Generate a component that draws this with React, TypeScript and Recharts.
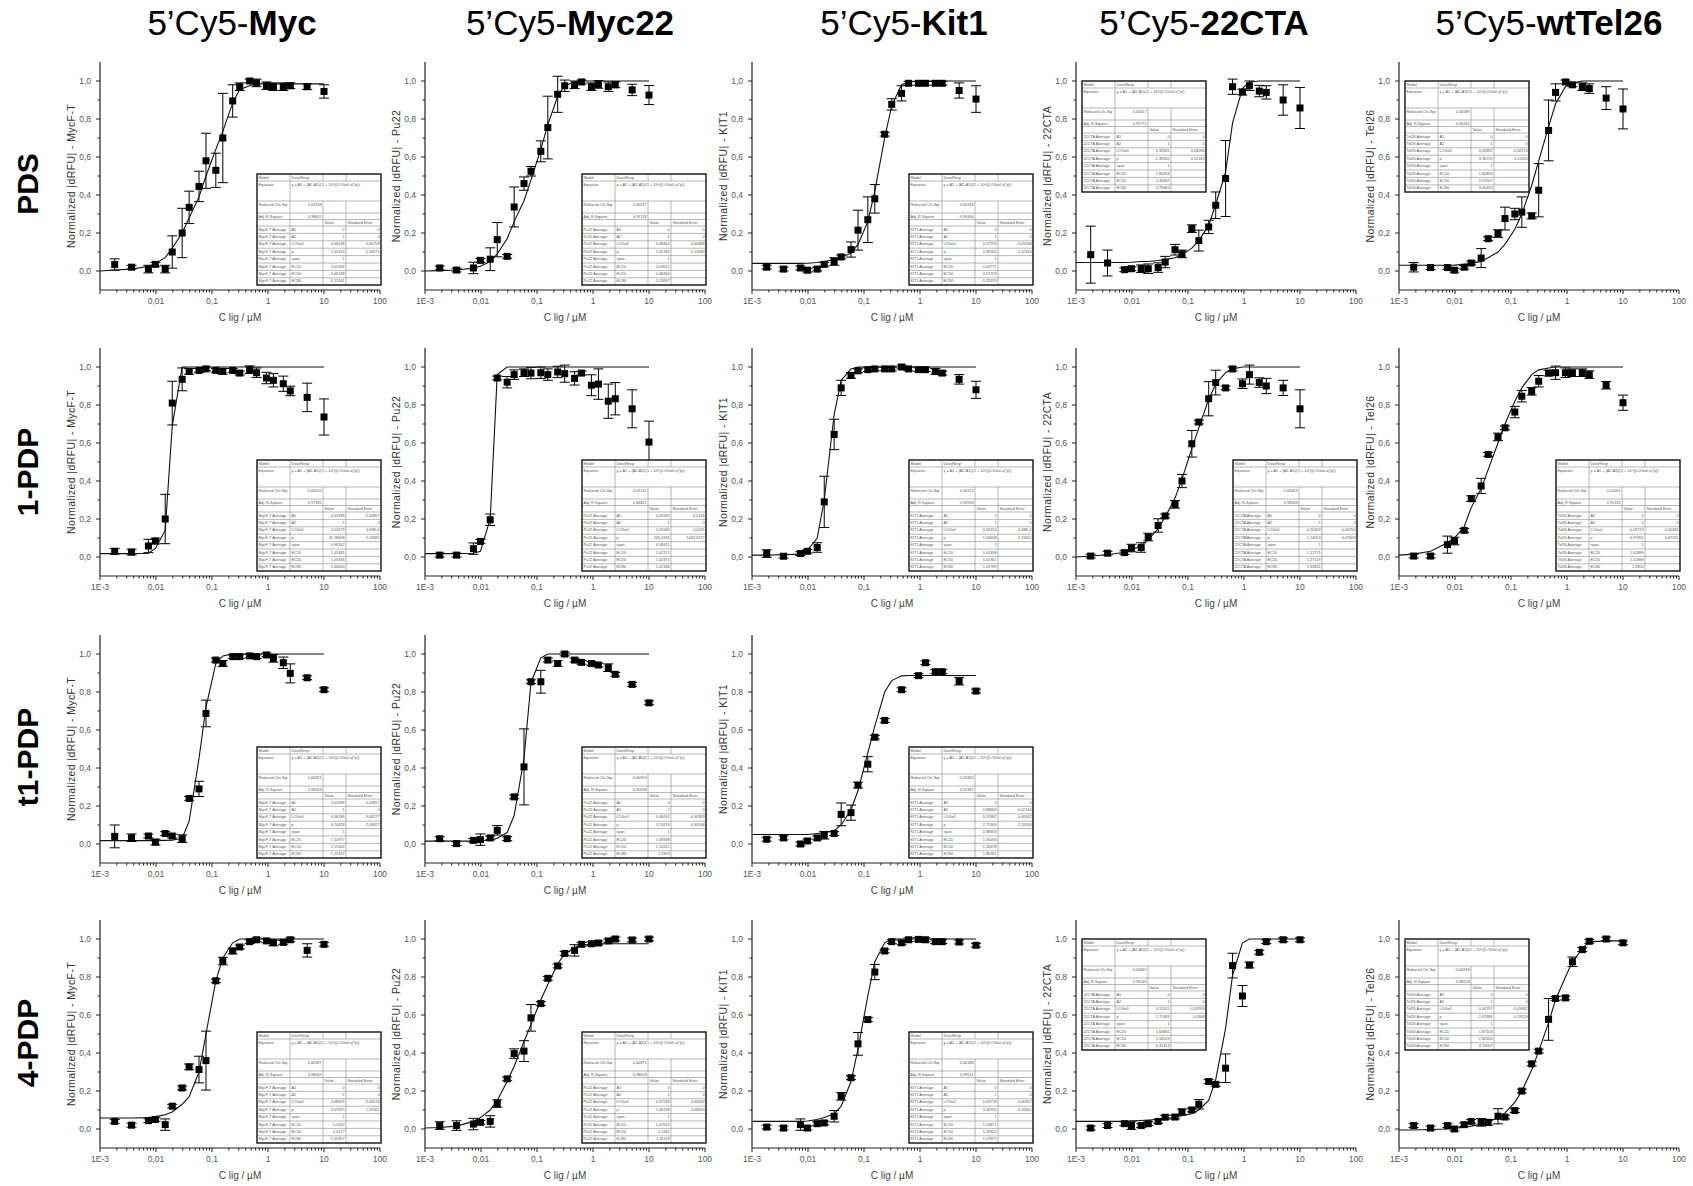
import React from "react";
import { ScatterChart, Scatter, XAxis, YAxis, ErrorBar } from "recharts";

// ligand concentrations (µM), same dilution series for every panel
const CONC = [0.00183, 0.00366, 0.00732, 0.00977, 0.0146, 0.0195, 0.0293, 0.0391, 0.0586, 0.0781, 0.117, 0.156, 0.234, 0.3125, 0.469, 0.625, 0.9375, 1.25, 1.875, 2.5, 5, 10];
// x positions of the fitted DoseResp curve (axis start + concentrations)
const FIT_X = [0.001, ...CONC];

const COLUMNS = ["Myc", "Myc22", "Kit1", "22CTA", "wtTel26"];
const Y_NAMES = ["MycF-T", "Pu22", "KIT1", "22CTA", "Tel26"];
const TABLE_NAMES = ["MycF-T Average", "Pu22 Average", "KIT1 Average", "22CTA Average", "Tel26 Average"];
const ROWS = ["PDS", "1-PDP", "t1-PDP", "4-PDP"];

const X_TICK_LABELS: Record<string, string> = { "0.001": "1E-3", "0.01": "0,01", "0.1": "0,1", "1": "1", "10": "10", "100": "100" };
const Y_TICKS = [0, 0.1, 0.2, 0.3, 0.4, 0.5, 0.6, 0.7, 0.8, 0.9, 1.0];

// ---- PDS ----
const PDS_MYC_Y = [0.034, 0.02, 0.01, 0.035, 0.01, 0.1, 0.2, 0.335, 0.445, 0.58, 0.53, 0.7, 0.895, 0.97, 1.0, 0.99, 0.975, 0.97, 0.97, 0.975, 0.97, 0.945];
const PDS_MYC_ERR = [0.03, 0.01, 0.02, 0.01, 0.02, 0.085, 0.13, 0.085, 0.08, 0.145, 0.09, 0.235, 0.085, 0.02, 0.01, 0.02, 0.02, 0.02, 0.02, 0.015, 0.015, 0.035];
const PDS_MYC_FIT = [0.0, 0.005, 0.01, 0.025, 0.04, 0.07, 0.12, 0.2, 0.28, 0.39, 0.5, 0.64, 0.735, 0.885, 0.955, 0.975, 0.985, 0.985, 0.985, 0.985, 0.985, 0.985, 0.985];
const PDS_MYC_TAB = ["0,00138", "0,98611", "0", "0", "1", "0", "0,06138", "0,00758", "1,53104", "0,16871", "1", "0,02456", "0,06138", "0,15341"];

const PDS_MYC22_Y = [0.016, 0.005, 0.016, 0.056, 0.062, 0.165, 0.077, 0.337, 0.46, 0.525, 0.63, 0.755, 0.93, 0.975, 0.98, 0.995, 0.97, 0.982, 0.97, 0.98, 0.953, 0.926];
const PDS_MYC22_ERR = [0.01, 0.01, 0.03, 0.01, 0.06, 0.09, 0.01, 0.105, 0.035, 0.025, 0.055, 0.165, 0.095, 0.03, 0.02, 0.01, 0.02, 0.02, 0.025, 0.015, 0.03, 0.05];
const PDS_MYC22_FIT = [0.0, 0.002, 0.005, 0.015, 0.025, 0.05, 0.09, 0.17, 0.26, 0.37, 0.48, 0.64, 0.77, 0.92, 0.975, 0.995, 1, 1, 1, 1, 1, 1, 1];
const PDS_MYC22_TAB = ["0,00247", "0,97118", "0", "0", "1", "0", "0,08464", "0,00888", "1,32183", "0,13080", "1", "0,03015", "0,08464", "0,23697"];

const PDS_KIT1_Y = [0.02, 0.01, 0.016, 0.004, 0.01, 0.035, 0.05, 0.074, 0.113, 0.215, 0.27, 0.38, 0.72, 0.877, 0.935, 0.988, 0.988, 0.988, 0.988, 0.988, 0.95, 0.905];
const PDS_KIT1_ERR = [0.01, 0.01, 0.01, 0.01, 0.01, 0.01, 0.02, 0.01, 0.04, 0.105, 0.12, 0.075, 0.01, 0.03, 0.04, 0.01, 0.01, 0.01, 0.01, 0.01, 0.04, 0.07];
const PDS_KIT1_FIT = [0.04, 0.04, 0.04, 0.04, 0.041, 0.045, 0.05, 0.06, 0.07, 0.095, 0.14, 0.26, 0.42, 0.7, 0.87, 0.98, 0.995, 1, 1, 1, 1, 1, 1];
const PDS_KIT1_TAB = ["0,00148", "0,99306", "0", "0", "1", "0", "0,17793", "0,01038", "2,36563", "0,12364", "1", "0,09771", "0,17793", "0,29329"];

const PDS_22CTA_Y = [0.086, 0.042, 0.007, 0.012, 0.012, 0.012, 0.018, 0.047, 0.112, 0.09, 0.223, 0.16, 0.232, 0.346, 0.487, 0.97, 0.942, 0.975, 0.947, 0.94, 0.9, 0.858];
const PDS_22CTA_ERR = [0.15, 0.068, 0.01, 0.01, 0.02, 0.025, 0.025, 0.03, 0.028, 0.02, 0.02, 0.055, 0.035, 0.07, 0.2, 0.04, 0.015, 0.025, 0.03, 0.035, 0.08, 0.108];
const PDS_22CTA_FIT = [0.045, 0.045, 0.045, 0.045, 0.046, 0.05, 0.05, 0.055, 0.06, 0.07, 0.085, 0.12, 0.16, 0.24, 0.35, 0.52, 0.78, 0.96, 0.995, 1, 1, 1, 1];
const PDS_22CTA_TAB = ["0,00417", "0,97271", "0", "0", "1", "0", "0,32681", "0,03096", "2,39635", "0,51163", "1", "1,80958", "2,30062", "3,79464"];

const PDS_TEL26_Y = [0.02, 0.018, 0.018, 0.004, 0.02, 0.042, 0.068, 0.17, 0.197, 0.276, 0.3, 0.31, 0.29, 0.425, 0.74, 0.94, 0.995, 0.98, 0.97, 0.96, 0.91, 0.853];
const PDS_TEL26_ERR = [0.025, 0.01, 0.01, 0.01, 0.01, 0.01, 0.05, 0.01, 0.02, 0.06, 0.03, 0.08, 0.015, 0.14, 0.16, 0.045, 0.01, 0.01, 0.02, 0.025, 0.06, 0.105];
const PDS_TEL26_FIT = [0.03, 0.03, 0.03, 0.03, 0.031, 0.035, 0.04, 0.05, 0.07, 0.1, 0.14, 0.22, 0.3, 0.45, 0.58, 0.76, 0.88, 0.97, 0.99, 1, 1, 1, 1];
const PDS_TEL26_TAB = ["0,00589", "0,96242", "0", "0", "1", "0", "0,31892", "0,02170", "3,36715", "0,21160", "1", "1,60894", "2,07407", "3,05453"];

// ---- 1-PDP ----
const P1_MYC_Y = [0.03, 0.026, 0.058, 0.084, 0.2, 0.81, 0.935, 0.977, 0.982, 0.99, 0.982, 0.977, 0.982, 0.968, 0.986, 0.97, 0.942, 0.93, 0.912, 0.874, 0.84, 0.737];
const P1_MYC_ERR = [0.015, 0.015, 0.035, 0.015, 0.13, 0.115, 0.06, 0.015, 0.01, 0.01, 0.01, 0.015, 0.01, 0.01, 0.02, 0.025, 0.03, 0.035, 0.04, 0.025, 0.075, 0.095];
const P1_MYC_FIT = [0.018, 0.018, 0.018, 0.02, 0.045, 0.14, 0.69, 1, 1, 1, 1, 1, 1, 1, 1, 1, 1, 1, 1, 1, 1, 1, 1];
const P1_MYC_TAB = ["0,00550", "0,97181", "0,01838", "0,00857", "1", "0", "0,01679", "4,69E-4", "31,78608", "5,13685", "0,98162", "1,02481", "1,03184", "1,04054"];

const P1_MYC22_Y = [0.01, 0.01, 0.044, 0.082, 0.196, 0.942, 0.92, 0.96, 0.97, 0.968, 0.97, 0.96, 0.974, 0.965, 0.94, 0.968, 0.904, 0.91, 0.82, 0.833, 0.78, 0.605];
const P1_MYC22_ERR = [0.01, 0.01, 0.03, 0.01, 0.03, 0.01, 0.03, 0.025, 0.02, 0.03, 0.03, 0.03, 0.03, 0.045, 0.035, 0.01, 0.055, 0.08, 0.09, 0.085, 0.1, 0.11];
const P1_MYC22_FIT = [0.018, 0.018, 0.018, 0.02, 0.03, 0.2, 0.96, 1, 1, 1, 1, 1, 1, 1, 1, 1, 1, 1, 1, 1, 1, 1, 1];
const P1_MYC22_TAB = ["0,01511", "0,84821", "0,01589", "0,0126", "1", "0", "0,01580", "0,0011", "245,3166", "1043,3272", "0,98411", "1,02272", "1,02374", "1,02186"];

const P1_KIT1_Y = [0.018, 0.004, 0.018, 0.03, 0.05, 0.29, 0.645, 0.89, 0.956, 0.98, 0.986, 0.99, 0.99, 0.99, 1.0, 0.99, 0.986, 0.986, 0.977, 0.968, 0.935, 0.88];
const P1_KIT1_ERR = [0.02, 0.01, 0.01, 0.01, 0.025, 0.135, 0.08, 0.04, 0.015, 0.01, 0.01, 0.01, 0.01, 0.01, 0.01, 0.01, 0.01, 0.01, 0.015, 0.01, 0.025, 0.045];
const P1_KIT1_FIT = [0.01, 0.01, 0.012, 0.015, 0.035, 0.1, 0.3, 0.75, 0.93, 0.99, 1, 1, 1, 1, 1, 1, 1, 1, 1, 1, 1, 1, 1];
const P1_KIT1_TAB = ["0,00113", "0,99593", "0", "0", "1", "0", "0,02310", "6,38E-4", "5,24608", "0,73451", "1", "1,01498", "1,02361", "1,03789"];

const P1_22CTA_Y = [0.005, 0.02, 0.023, 0.047, 0.05, 0.105, 0.166, 0.216, 0.277, 0.4, 0.596, 0.71, 0.833, 0.918, 0.89, 0.99, 0.912, 0.96, 0.918, 0.9, 0.89, 0.78];
const P1_22CTA_ERR = [0.01, 0.01, 0.01, 0.02, 0.025, 0.02, 0.035, 0.01, 0.02, 0.035, 0.07, 0.01, 0.09, 0.065, 0.01, 0.01, 0.025, 0.05, 0.025, 0.04, 0.04, 0.1];
const P1_22CTA_FIT = [0.0, 0.005, 0.012, 0.025, 0.035, 0.06, 0.09, 0.15, 0.21, 0.31, 0.41, 0.57, 0.68, 0.83, 0.91, 0.97, 0.99, 1, 1, 1, 1, 1, 1];
const P1_22CTA_TAB = ["0,00463", "0,98543", "0", "0", "1", "0", "0,10463", "0,00750", "1,13053", "0,07609", "1", "1,12771", "1,27519", "1,63811"];

const P1_TEL26_Y = [0.005, 0.005, 0.065, 0.084, 0.14, 0.307, 0.374, 0.54, 0.632, 0.68, 0.763, 0.846, 0.872, 0.925, 0.968, 0.97, 0.97, 0.97, 0.97, 0.96, 0.904, 0.812];
const P1_TEL26_ERR = [0.01, 0.01, 0.045, 0.02, 0.01, 0.015, 0.04, 0.01, 0.02, 0.01, 0.03, 0.03, 0.02, 0.03, 0.015, 0.035, 0.025, 0.02, 0.02, 0.02, 0.02, 0.04];
const P1_TEL26_FIT = [0.01, 0.015, 0.03, 0.075, 0.1, 0.16, 0.26, 0.36, 0.46, 0.6, 0.7, 0.82, 0.89, 0.96, 0.985, 0.995, 1, 1, 1, 1, 1, 1, 1];
const P1_TEL26_TAB = ["0,01001", "0,95132", "0", "0", "1", "0", "0,03719", "0,00431", "0,97361", "0,07261", "1", "1,01889", "1,11898", "1,3850"];

// ---- t1-PDP ----
const T1_MYC_Y = [0.04, 0.033, 0.042, 0.01, 0.055, 0.042, 0.028, 0.24, 0.29, 0.687, 0.968, 0.95, 0.986, 0.986, 0.99, 0.986, 0.995, 0.977, 0.954, 0.898, 0.875, 0.812];
const T1_MYC_ERR = [0.06, 0.02, 0.01, 0.015, 0.01, 0.01, 0.02, 0.01, 0.04, 0.07, 0.01, 0.015, 0.01, 0.01, 0.01, 0.01, 0.01, 0.02, 0.03, 0.05, 0.01, 0.01];
const T1_MYC_FIT = [0.018, 0.018, 0.018, 0.018, 0.018, 0.019, 0.02, 0.03, 0.12, 0.45, 0.72, 0.95, 0.99, 1, 1, 1, 1, 1, 1, 1, 1, 1, 1];
const T1_MYC_TAB = ["0,00321", "0,98163", "0,01838", "0,00857", "1", "0", "0,06266", "0,00277", "4,74428", "2,03627", "1", "1,10977", "1,15566", "1,22332"];

const T1_MYC22_Y = [0.028, 0.002, 0.019, 0.023, 0.032, 0.072, 0.028, 0.248, 0.406, 0.854, 0.854, 0.968, 0.95, 1.0, 0.968, 0.956, 0.95, 0.942, 0.928, 0.893, 0.84, 0.743];
const T1_MYC22_ERR = [0.01, 0.01, 0.01, 0.03, 0.01, 0.025, 0.01, 0.01, 0.2, 0.01, 0.06, 0.01, 0.015, 0.01, 0.01, 0.01, 0.01, 0.01, 0.02, 0.01, 0.01, 0.01];
const T1_MYC22_FIT = [0.015, 0.015, 0.015, 0.015, 0.016, 0.02, 0.03, 0.06, 0.15, 0.45, 0.85, 0.98, 1, 1, 1, 1, 1, 1, 1, 1, 1, 1, 1];
const T1_MYC22_TAB = ["0,00693", "0,95698", "0", "0", "1", "0", "0,06091", "0,00369", "3,74119", "0,90506", "1", "1,09838", "1,15051", "1,1903"];

const T1_KIT1_Y = [0.025, 0.032, 0.0, 0.016, 0.032, 0.046, 0.055, 0.156, 0.165, 0.31, 0.42, 0.562, 0.65, null, 0.812, null, 0.886, 0.954, 0.907, 0.907, 0.857, 0.805];
const T1_KIT1_ERR = [0.01, 0.01, 0.01, 0.01, 0.01, 0.02, 0.01, 0.06, 0.04, 0.015, 0.04, 0.01, 0.01, 0, 0.01, 0, 0.01, 0.01, 0.01, 0.01, 0.02, 0.01];
const T1_KIT1_FIT = [0.05, 0.05, 0.05, 0.05, 0.05, 0.055, 0.06, 0.07, 0.1, 0.18, 0.28, 0.48, 0.62, 0.8, 0.86, 0.885, 0.887, 0.887, 0.887, 0.887, 0.887, 0.887, 0.887];
const T1_KIT1_TAB = ["0,00382", "0,97487", "0", "0", "0,88663", "0,02140", "0,13962", "0,00932", "2,75169", "1,11030", "0,88663", "1,16034", "1,36478", "1,86361"];

// ---- 4-PDP ----
const P4_MYC_Y = [0.04, 0.02, 0.044, 0.05, 0.023, 0.12, 0.216, 0.327, 0.313, 0.36, 0.78, 0.884, 0.937, 0.958, 0.986, 0.996, 0.99, 0.98, 0.982, 0.996, 0.94, 0.972];
const P4_MYC_ERR = [0.01, 0.01, 0.01, 0.01, 0.03, 0.01, 0.01, 0.015, 0.07, 0.155, 0.01, 0.02, 0.015, 0.01, 0.01, 0.01, 0.01, 0.015, 0.01, 0.01, 0.035, 0.01];
const P4_MYC_FIT = [0.058, 0.058, 0.058, 0.06, 0.065, 0.075, 0.09, 0.13, 0.17, 0.3, 0.5, 0.78, 0.9, 0.98, 1, 1, 1, 1, 1, 1, 1, 1, 1];
const P4_MYC_TAB = ["0,00387", "0,98649", "0", "0", "1", "0", "0,08309", "0,00576", "3,07875", "1,37601", "1", "1,1562", "1,0177", "1,20497"];

const P4_MYC22_Y = [0.018, 0.018, 0.026, 0.035, 0.04, 0.134, 0.264, 0.397, 0.41, 0.585, 0.66, 0.793, 0.858, 0.924, 0.94, 0.972, 0.975, 0.979, 0.99, 1.0, 0.995, 1.0];
const P4_MYC22_ERR = [0.02, 0.025, 0.03, 0.01, 0.03, 0.02, 0.01, 0.025, 0.055, 0.07, 0.01, 0.01, 0.01, 0.01, 0.03, 0.01, 0.01, 0.01, 0.01, 0.01, 0.01, 0.01];
const P4_MYC22_FIT = [0.005, 0.008, 0.015, 0.04, 0.06, 0.1, 0.15, 0.25, 0.33, 0.46, 0.55, 0.68, 0.76, 0.87, 0.92, 0.955, 0.968, 0.974, 0.975, 0.975, 0.975, 0.975, 0.975];
const P4_MYC22_TAB = ["0,00875", "0,98618", "0", "0", "1", "0", "0,07518", "0,00584", "1,06138", "0,08300", "1", "1,07610", "1,1842", "1,31118"];

const P4_KIT1_Y = [0.01, 0.005, 0.023, 0.005, 0.028, 0.032, 0.067, 0.172, 0.27, 0.448, 0.576, 0.826, 0.937, 0.986, 0.98, 0.996, 0.998, 0.996, 0.986, 0.986, 0.984, 0.967];
const P4_KIT1_ERR = [0.01, 0.01, 0.03, 0.01, 0.01, 0.01, 0.03, 0.02, 0.01, 0.06, 0.01, 0.04, 0.01, 0.01, 0.01, 0.01, 0.01, 0.01, 0.01, 0.01, 0.01, 0.01];
const P4_KIT1_FIT = [0.04, 0.04, 0.04, 0.04, 0.042, 0.05, 0.06, 0.08, 0.12, 0.25, 0.42, 0.7, 0.88, 0.98, 1, 1, 1, 1, 1, 1, 1, 1, 1];
const P4_KIT1_TAB = ["0,00186", "0,99511", "0", "0", "1", "0", "0,09718", "0,00357", "3,44765", "0,33301", "1", "1,13871", "1,28325", "1,57875"];

const P4_22CTA_Y = [0.005, 0.018, 0.028, 0.018, 0.018, 0.028, 0.04, 0.062, 0.063, 0.09, 0.1, 0.13, 0.25, 0.235, 0.32, 0.86, 0.7, 0.863, 0.93, 0.986, 0.996, 0.996];
const P4_22CTA_ERR = [0.01, 0.01, 0.01, 0.02, 0.01, 0.01, 0.01, 0.01, 0.01, 0.015, 0.01, 0.025, 0.01, 0.01, 0.075, 0.065, 0.055, 0.015, 0.01, 0.01, 0.01, 0.01];
const P4_22CTA_FIT = [0.04, 0.04, 0.04, 0.04, 0.043, 0.045, 0.047, 0.05, 0.055, 0.062, 0.07, 0.08, 0.1, 0.15, 0.26, 0.53, 0.81, 0.98, 1, 1, 1, 1, 1];
const P4_22CTA_TAB = ["0,00642", "0,96549", "0", "0", "1", "0", "0,52011", "0,02993", "2,77483", "0,3308", "1", "1,60831", "2,16029", "6,31314"];

const P4_TEL26_Y = [0.018, 0.005, 0.018, 0.0, 0.023, 0.04, 0.035, 0.035, 0.067, 0.063, 0.097, 0.2, 0.343, 0.41, 0.577, 0.687, 0.69, 0.88, 0.944, 0.988, 1.0, 0.98];
const P4_TEL26_ERR = [0.01, 0.01, 0.01, 0.01, 0.01, 0.01, 0.02, 0.015, 0.04, 0.01, 0.01, 0.01, 0.01, 0.01, 0.11, 0.01, 0.01, 0.025, 0.01, 0.01, 0.01, 0.01];
const P4_TEL26_FIT = [-0.005, -0.005, -0.003, 0.0, 0.003, 0.01, 0.015, 0.025, 0.035, 0.06, 0.085, 0.14, 0.2, 0.31, 0.41, 0.56, 0.68, 0.8, 0.88, 0.95, 0.985, 0.99, 0.99];
const P4_TEL26_TAB = ["0,00933", "0,98558", "0", "0", "1", "0", "0,44797", "0,03082", "2,07886", "0,53129", "1", "1,87103", "2,80328", "4,70057"];

// layout of the grid (page pixels)
const AXIS_X = [100, 425, 752, 1076, 1399];
const ZERO_Y = [271, 557, 844, 1129];
const TITLE_X = [232, 570, 904, 1204, 1549];
const ROW_LABEL_Y = [184, 472, 757, 1043];

type Panel = {
  row: number;
  col: number;
  y: (number | null)[];
  err: number[];
  fit: number[];
  tab: string[];
  corner: "br" | "tl";
  hideFirst?: boolean;
};

const PANELS: Panel[] = [
  { row: 0, col: 0, y: PDS_MYC_Y, err: PDS_MYC_ERR, fit: PDS_MYC_FIT, tab: PDS_MYC_TAB, corner: "br", hideFirst: true },
  { row: 0, col: 1, y: PDS_MYC22_Y, err: PDS_MYC22_ERR, fit: PDS_MYC22_FIT, tab: PDS_MYC22_TAB, corner: "br" },
  { row: 0, col: 2, y: PDS_KIT1_Y, err: PDS_KIT1_ERR, fit: PDS_KIT1_FIT, tab: PDS_KIT1_TAB, corner: "br" },
  { row: 0, col: 3, y: PDS_22CTA_Y, err: PDS_22CTA_ERR, fit: PDS_22CTA_FIT, tab: PDS_22CTA_TAB, corner: "tl" },
  { row: 0, col: 4, y: PDS_TEL26_Y, err: PDS_TEL26_ERR, fit: PDS_TEL26_FIT, tab: PDS_TEL26_TAB, corner: "tl" },
  { row: 1, col: 0, y: P1_MYC_Y, err: P1_MYC_ERR, fit: P1_MYC_FIT, tab: P1_MYC_TAB, corner: "br" },
  { row: 1, col: 1, y: P1_MYC22_Y, err: P1_MYC22_ERR, fit: P1_MYC22_FIT, tab: P1_MYC22_TAB, corner: "br" },
  { row: 1, col: 2, y: P1_KIT1_Y, err: P1_KIT1_ERR, fit: P1_KIT1_FIT, tab: P1_KIT1_TAB, corner: "br" },
  { row: 1, col: 3, y: P1_22CTA_Y, err: P1_22CTA_ERR, fit: P1_22CTA_FIT, tab: P1_22CTA_TAB, corner: "br" },
  { row: 1, col: 4, y: P1_TEL26_Y, err: P1_TEL26_ERR, fit: P1_TEL26_FIT, tab: P1_TEL26_TAB, corner: "br" },
  { row: 2, col: 0, y: T1_MYC_Y, err: T1_MYC_ERR, fit: T1_MYC_FIT, tab: T1_MYC_TAB, corner: "br" },
  { row: 2, col: 1, y: T1_MYC22_Y, err: T1_MYC22_ERR, fit: T1_MYC22_FIT, tab: T1_MYC22_TAB, corner: "br" },
  { row: 2, col: 2, y: T1_KIT1_Y, err: T1_KIT1_ERR, fit: T1_KIT1_FIT, tab: T1_KIT1_TAB, corner: "br" },
  { row: 3, col: 0, y: P4_MYC_Y, err: P4_MYC_ERR, fit: P4_MYC_FIT, tab: P4_MYC_TAB, corner: "br" },
  { row: 3, col: 1, y: P4_MYC22_Y, err: P4_MYC22_ERR, fit: P4_MYC22_FIT, tab: P4_MYC22_TAB, corner: "br" },
  { row: 3, col: 2, y: P4_KIT1_Y, err: P4_KIT1_ERR, fit: P4_KIT1_FIT, tab: P4_KIT1_TAB, corner: "br" },
  { row: 3, col: 3, y: P4_22CTA_Y, err: P4_22CTA_ERR, fit: P4_22CTA_FIT, tab: P4_22CTA_TAB, corner: "tl" },
  { row: 3, col: 4, y: P4_TEL26_Y, err: P4_TEL26_ERR, fit: P4_TEL26_FIT, tab: P4_TEL26_TAB, corner: "tl" },
];

// log axis ticks: majors at decades, minors at 2..9
const X_TICKS: number[] = [];
[0.001, 0.01, 0.1, 1, 10].forEach((d) => {
  for (let m = 1; m < 10; m++) X_TICKS.push(+(d * m).toPrecision(3));
});
X_TICKS.push(100);

const isDecade = (v: number) => {
  const lg = Math.log10(v);
  return Math.abs(lg - Math.round(lg)) < 1e-6;
};

const XTick = (props: any) => {
  const { x, y, payload, hideFirst } = props;
  const v = payload.value;
  const major = isDecade(v);
  const label = X_TICK_LABELS[String(v)];
  return (
    <g>
      <line x1={x} x2={x} y1={y} y2={y + (major ? 4 : 2.5)} stroke="#222" strokeWidth={1} />
      {major && !(hideFirst && v < 0.002) && (
        <text x={x} y={y + 14} textAnchor="middle" fontSize={8.5} fill="#555">
          {label}
        </text>
      )}
    </g>
  );
};

const YTick = (props: any) => {
  const { x, y, payload } = props;
  const v = payload.value;
  const major = Math.abs(v * 5 - Math.round(v * 5)) < 1e-6;
  return (
    <g>
      <line x1={x - (major ? 4 : 2.5)} x2={x} y1={y} y2={y} stroke="#222" strokeWidth={1} />
      {major && (
        <text x={x - 9} y={y + 3} textAnchor="end" fontSize={8.5} fill="#555">
          {v.toFixed(1).replace(".", ",")}
        </text>
      )}
    </g>
  );
};

const Square = (props: any) => {
  const { cx, cy } = props;
  if (cx == null || cy == null) return <g />;
  return <rect x={cx - 3.5} y={cy - 3.5} width={7} height={7} fill="#000" />;
};

const NoDot = () => <g />;

const CHART_W = 360;
const CHART_H = 290;
const PLOT_LEFT = 60;
const PLOT_TOP = 10;

function DosePanel({ p }: { p: Panel }) {
  const left = AXIS_X[p.col] - PLOT_LEFT;
  const top = ZERO_Y[p.row] - 209 - PLOT_TOP;
  const pts = CONC.map((x, i) => ({ x, y: p.y[i], e: p.err[i] })).filter((d) => d.y !== null);
  const fit = FIT_X.map((x, i) => ({ x, y: p.fit[i] }));
  const yName = "Normalized |dRFU| - " + Y_NAMES[p.col];
  return (
    <div style={{ position: "absolute", left, top }}>
      <ScatterChart width={CHART_W} height={CHART_H} margin={{ top: PLOT_TOP, right: 20, bottom: 22, left: 20 }}>
        <XAxis
          type="number"
          dataKey="x"
          scale="log"
          domain={[0.001, 100]}
          allowDataOverflow
          ticks={X_TICKS}
          interval={0}
          tickSize={0}
          tickMargin={0}
          tickLine={false}
          height={30}
          axisLine={{ stroke: "#222", strokeWidth: 1.2 }}
          tick={(tp: any) => <XTick {...tp} hideFirst={p.hideFirst} />}
          label={{
            content: () => (
              <text x={PLOT_LEFT + 140} y={PLOT_TOP + 228 + 31} textAnchor="middle" fontSize={10} fill="#444">
                C lig / µM
              </text>
            ),
          }}
        />
        <YAxis
          type="number"
          dataKey="y"
          domain={[-0.1, 1.1]}
          allowDataOverflow
          ticks={Y_TICKS}
          interval={0}
          tickSize={0}
          tickMargin={0}
          tickLine={false}
          width={40}
          axisLine={{ stroke: "#222", strokeWidth: 1.2 }}
          tick={YTick}
          label={{
            content: () => (
              <text
                x={PLOT_LEFT - 29}
                y={PLOT_TOP + 114}
                textAnchor="middle"
                dominantBaseline="central"
                fontSize={10.5}
                letterSpacing={0.4}
                fill="#333"
                transform={`rotate(-90, ${PLOT_LEFT - 29}, ${PLOT_TOP + 114})`}
              >
                {yName}
              </text>
            ),
          }}
        />
        <Scatter data={fit} line={{ stroke: "#111", strokeWidth: 1.1 }} shape={NoDot} isAnimationActive={false} />
        <Scatter data={pts} shape={Square} isAnimationActive={false}>
          <ErrorBar dataKey="e" direction="y" width={5} stroke="#000" strokeWidth={1} />
        </Scatter>
      </ScatterChart>
    </div>
  );
}

// Origin-style fit parameter table (drawn over the plot)
const TAB_W = 124;
const TAB_COLS = [0, 33, 66, 89, 124];
const TAB_ROWS = [0, 7, 27, 39, 45.5, 52, 59.4, 66.8, 74.2, 81.6, 89, 96.4, 103.8, 111];
const PARAMS = ["A1", "A2", "LOGx0", "p", "span", "EC20", "EC50", "EC80"];

function FitTable({ p }: { p: Panel }) {
  const x0 = p.corner === "br" ? AXIS_X[p.col] + 157 : AXIS_X[p.col] + 6;
  const y0 = p.corner === "br" ? ZERO_Y[p.row] - 97 : ZERO_Y[p.row] - 190;
  const t = p.tab;
  const name = TABLE_NAMES[p.col];
  const H = TAB_ROWS[TAB_ROWS.length - 1];
  const fs = 3.8;
  const txt = (s: string, col: number, row: number, right = false) => (
    <text
      x={right ? TAB_COLS[col + 1] - 1.5 : TAB_COLS[col] + 1.5}
      y={TAB_ROWS[row] + 4.6}
      fontSize={fs}
      fill="#555"
      textAnchor={right ? "end" : "start"}
    >
      {s}
    </text>
  );
  const paramVals: [string, string][] = [
    [t[2], t[3]],
    [t[4], t[5]],
    [t[6], t[7]],
    [t[8], t[9]],
    [t[10], ""],
    [t[11], ""],
    [t[12], ""],
    [t[13], ""],
  ];
  return (
    <g transform={`translate(${x0}, ${y0})`}>
      <rect x={0} y={0} width={TAB_W} height={H} fill="#fff" />
      {TAB_ROWS.slice(1, -1).map((ry, i) => (
        <line key={"h" + i} x1={0} x2={TAB_W} y1={ry} y2={ry} stroke="#999" strokeWidth={0.7} />
      ))}
      {TAB_COLS.slice(1, -1).map((cx, i) => (
        <g key={"v" + i}>
          <line x1={cx} x2={cx} y1={0} y2={i === 0 ? H : TAB_ROWS[1]} stroke="#999" strokeWidth={0.7} />
          {i > 0 && <line x1={cx} x2={cx} y1={TAB_ROWS[2]} y2={H} stroke="#999" strokeWidth={0.7} />}
        </g>
      ))}
      <rect x={0} y={0} width={TAB_W} height={H} fill="none" stroke="#111" strokeWidth={1.4} />
      {txt("Model", 0, 0)}
      {txt("DoseResp", 1, 0)}
      {txt("Equation", 0, 1)}
      <text x={TAB_COLS[1] + 1.5} y={TAB_ROWS[1] + 4.6} fontSize={fs} fill="#555">
        y = A1 + (A2-A1)/(1 + 10^((LOGx0-x)*p))
      </text>
      {txt("Reduced Chi-Sqr", 0, 2)}
      {txt(t[0], 1, 2, true)}
      {txt("Adj. R-Square", 0, 3)}
      {txt(t[1], 1, 3, true)}
      {txt("Value", 2, 4)}
      {txt("Standard Error", 3, 4)}
      {PARAMS.map((par, i) => (
        <g key={par}>
          {txt(name, 0, 5 + i)}
          {txt(par, 1, 5 + i)}
          {txt(paramVals[i][0], 2, 5 + i, true)}
          {paramVals[i][1] !== "" && txt(paramVals[i][1], 3, 5 + i, true)}
        </g>
      ))}
    </g>
  );
}

export default function App() {
  return (
    <div
      style={{
        position: "absolute",
        left: 0,
        top: 0,
        width: 1693,
        height: 1186,
        background: "#fff",
        overflow: "hidden",
        fontFamily: '"Liberation Sans", Arial, sans-serif',
      }}
    >
      {PANELS.map((p) => (
        <DosePanel key={`${p.row}-${p.col}`} p={p} />
      ))}
      <svg width={1693} height={1186} style={{ position: "absolute", left: 0, top: 0, pointerEvents: "none" }}>
        {COLUMNS.map((c, i) => (
          <text key={c} x={TITLE_X[i]} y={35} textAnchor="middle" fontSize={35} fill="#000">
            5’Cy5-<tspan fontWeight="bold">{c}</tspan>
          </text>
        ))}
        {ROWS.map((r, i) => (
          <text
            key={r}
            x={27}
            y={ROW_LABEL_Y[i]}
            textAnchor="middle"
            dominantBaseline="central"
            fontSize={30}
            fontWeight="bold"
            fill="#000"
            transform={`rotate(-90, 27, ${ROW_LABEL_Y[i]})`}
          >
            {r}
          </text>
        ))}
        {PANELS.map((p) => (
          <FitTable key={`t${p.row}-${p.col}`} p={p} />
        ))}
      </svg>
    </div>
  );
}
